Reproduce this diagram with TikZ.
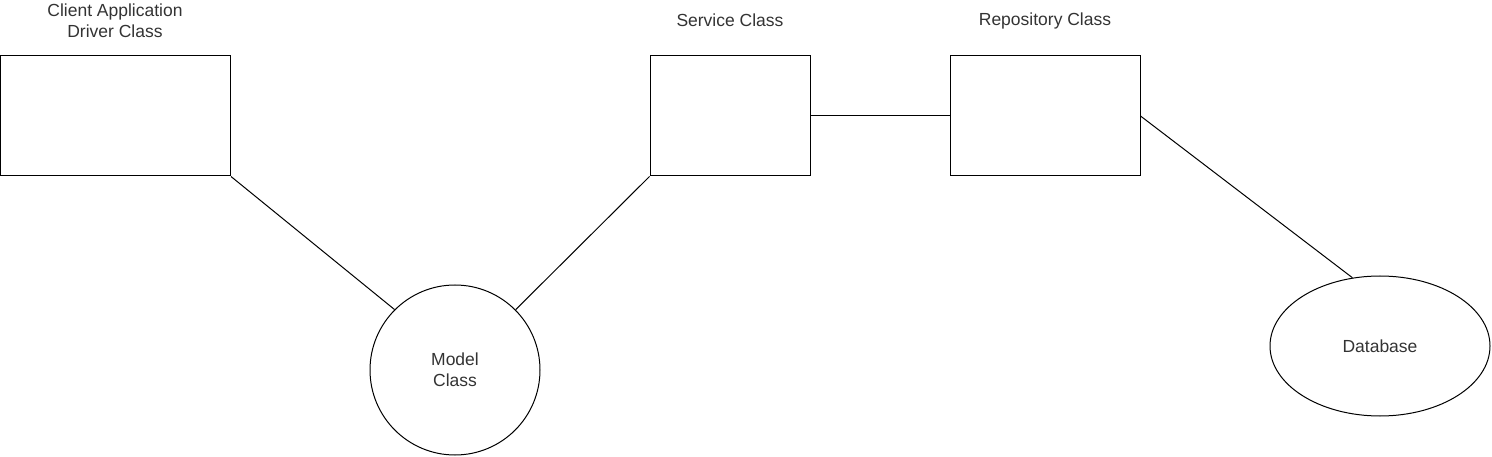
\documentclass[tikz,border=0pt]{standalone}
\usepackage{fontspec}
\setmainfont{Liberation Sans}
\usetikzlibrary{shapes.geometric}
\begin{document}
\begin{tikzpicture}[x=1pt,y=-1pt,
  every node/.style={font=\fontsize{17.5}{21}\selectfont, text=black!80},
  boxnode/.style={draw=black, line width=1pt, rectangle, inner sep=0pt},
  circnode/.style={draw=black, line width=1pt, circle, inner sep=0pt, minimum size=170pt, align=center},
  ellnode/.style={draw=black, line width=1pt, ellipse, inner sep=0pt, minimum width=220pt, minimum height=140pt},
  lbl/.style={align=center, inner sep=0pt},
  conn/.style={draw=black, line width=1pt}]
\useasboundingbox (0,0) rectangle (1492,457);
\node[boxnode, minimum width=230pt, minimum height=120pt] (client) at (115.5,116) {};
\node[boxnode, minimum width=160pt, minimum height=120pt] (service) at (730,116) {};
\node[boxnode, minimum width=190pt, minimum height=120pt] (repo) at (1045,116) {};
\node[circnode] (model) at (455,370) {Model\\Class};
\node[ellnode] (db) at (1380,346) {Database};
\node[lbl] (clientlbl) at (115,20.5) {Client Application\\Driver Class};
\node[lbl] (servicelbl) at (730,20.5) {Service Class};
\node[lbl] (repolbl) at (1045,20.5) {Repository Class};
\draw[conn] (client.south east) -- (model.135);
\draw[conn] (service.south west) -- (model);
\draw[conn] (service.east) -- (repo.west);
\draw[conn] (repo.east) -- (db.112);
\end{tikzpicture}
\end{document}
